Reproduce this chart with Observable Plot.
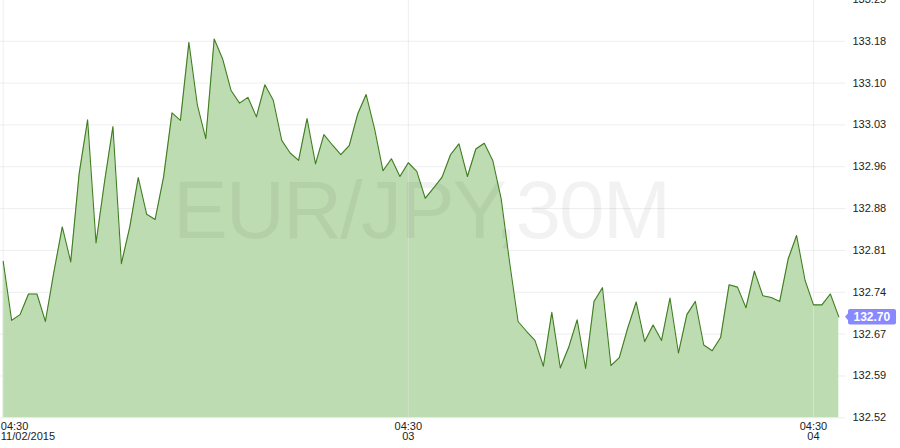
<!DOCTYPE html>
<html><head><meta charset="utf-8">
<script src="https://cdn.jsdelivr.net/npm/d3@7"></script>
<script src="https://cdn.jsdelivr.net/npm/@observablehq/plot@0.6"></script>
<style>
html,body{margin:0;padding:0;background:#fff;}
#chart{width:900px;height:448px;overflow:hidden;}
</style></head><body><div id="chart"></div>
<script>
const prices = [
  132.793, 132.690, 132.700, 132.736, 132.736, 132.688, 132.774, 132.853, 132.792, 132.946,
  133.040, 132.825, 132.931, 133.028, 132.789, 132.853, 132.939, 132.875, 132.866, 132.940,
  133.052, 133.039, 133.175, 133.066, 133.007, 133.181, 133.146, 133.091, 133.069, 133.079,
  133.045, 133.101, 133.074, 133.004, 132.982, 132.969, 133.042, 132.963, 133.014, 132.996,
  132.979, 132.995, 133.050, 133.084, 133.024, 132.951, 132.972, 132.941, 132.965, 132.950,
  132.903, 132.921, 132.940, 132.979, 132.998, 132.941, 132.989, 132.999, 132.969, 132.902,
  132.791, 132.688, 132.671, 132.655, 132.610, 132.704, 132.607, 132.643, 132.691, 132.606,
  132.723, 132.747, 132.611, 132.625, 132.677, 132.722, 132.653, 132.682, 132.655, 132.729,
  132.633, 132.700, 132.723, 132.647, 132.637, 132.660, 132.752, 132.748, 132.712, 132.776,
  132.733, 132.730, 132.723, 132.797, 132.838, 132.760, 132.717, 132.717, 132.736, 132.696
];
const yTicks = [132.52, 132.593, 132.666, 132.739, 132.812, 132.885, 132.958, 133.031, 133.104, 133.177, 133.25];
const yTickLabels = ["132.52", "132.59", "132.67", "132.74", "132.81", "132.88", "132.96", "133.03", "133.10", "133.18", "133.25"];
const xTickIdx = [0, 48, 96];
const xTickLabels = ["04:30\n11/02/2015", "04:30\n03", "04:30\n04"];
const title = "EUR/JPY,30M";
const lastLabel = "132.70";
const yDomain = [132.52, 133.25];

const data = prices.map((v, i) => ({i, v}));
const labelOf = new Map(yTicks.map((t, k) => [t, yTickLabels[k]]));
const xTicks = xTickIdx.map((i, k) => ({i, label: xTickLabels[k]}));
const last = data[data.length - 1];

const plot = Plot.plot({
  width: 900, height: 448,
  marginLeft: 2.7, marginRight: 61.7, marginTop: 0, marginBottom: 30.7,
  style: {fontFamily: "'Liberation Sans', Arial, sans-serif", fontSize: "11px", color: "#222", background: "#fff", overflow: "visible"},
  x: {domain: [0, prices.length - 1], axis: null},
  y: {domain: yDomain, range: [417.3, -1.1], axis: null},
  marks: [
    Plot.ruleY(yTicks, {stroke: "#eeeeee", insetLeft: -3, insetRight: -7}),
    Plot.areaY(data, {x: "i", y1: yDomain[0], y2: "v", fill: "#bedcb1"}),
    Plot.ruleX(xTickIdx, {stroke: "#e4e4e4", strokeOpacity: 0.6}),
    Plot.text([title], {frameAnchor: "middle", fontSize: 82, fill: "#000", fillOpacity: 0.05, dy: 3}),
    Plot.line(data, {x: "i", y: "v", stroke: "#3f7d20", strokeWidth: 1.1}),
    Plot.axisY({anchor: "right", label: null, ticks: yTicks, tickFormat: d => labelOf.get(d), tickSize: 0, tickPadding: 13.7, fontSize: 11}),
    Plot.text(xTicks.slice(0, 1), {x: "i", text: "label", frameAnchor: "bottom", lineAnchor: "top", textAnchor: "start", dx: -2.4, dy: 5.4, lineHeight: 0.9}),
    Plot.text(xTicks.slice(1), {x: "i", text: "label", frameAnchor: "bottom", lineAnchor: "top", dy: 5.4, lineHeight: 0.9}),
    Plot.text([last], {x: "i", y: "v", text: () => lastLabel, textAnchor: "start", dx: 14.7, fill: "#fff", fontWeight: "bold", fontSize: 12})
  ]
});
document.getElementById("chart").appendChild(plot);

// watermark spacing and label badge
const NS = "http://www.w3.org/2000/svg";
d3.select(plot).selectAll("text").each(function() {
  const t = this.textContent;
  if (t === title) this.setAttribute("letter-spacing", "-2");
  if (t === lastLabel) {
    const b = this.getBBox();
    const x0 = b.x - 5.5, x1 = b.x + b.width + 5.5;
    const cy = b.y + b.height / 2, h = 15.5;
    const g = document.createElementNS(NS, "g");
    const tr = this.getAttribute("transform");
    if (tr) g.setAttribute("transform", tr);
    const r = document.createElementNS(NS, "rect");
    r.setAttribute("x", x0); r.setAttribute("y", cy - h / 2);
    r.setAttribute("width", x1 - x0); r.setAttribute("height", h);
    r.setAttribute("rx", 2); r.setAttribute("fill", "#8888ff");
    const p = document.createElementNS(NS, "path");
    p.setAttribute("d", `M${x0 + 0.5},${cy - 4}L${x0 - 3},${cy}L${x0 + 0.5},${cy + 4}Z`);
    p.setAttribute("fill", "#8888ff");
    g.appendChild(r); g.appendChild(p);
    this.parentNode.insertBefore(g, this);
  }
});
</script>
</body></html>
